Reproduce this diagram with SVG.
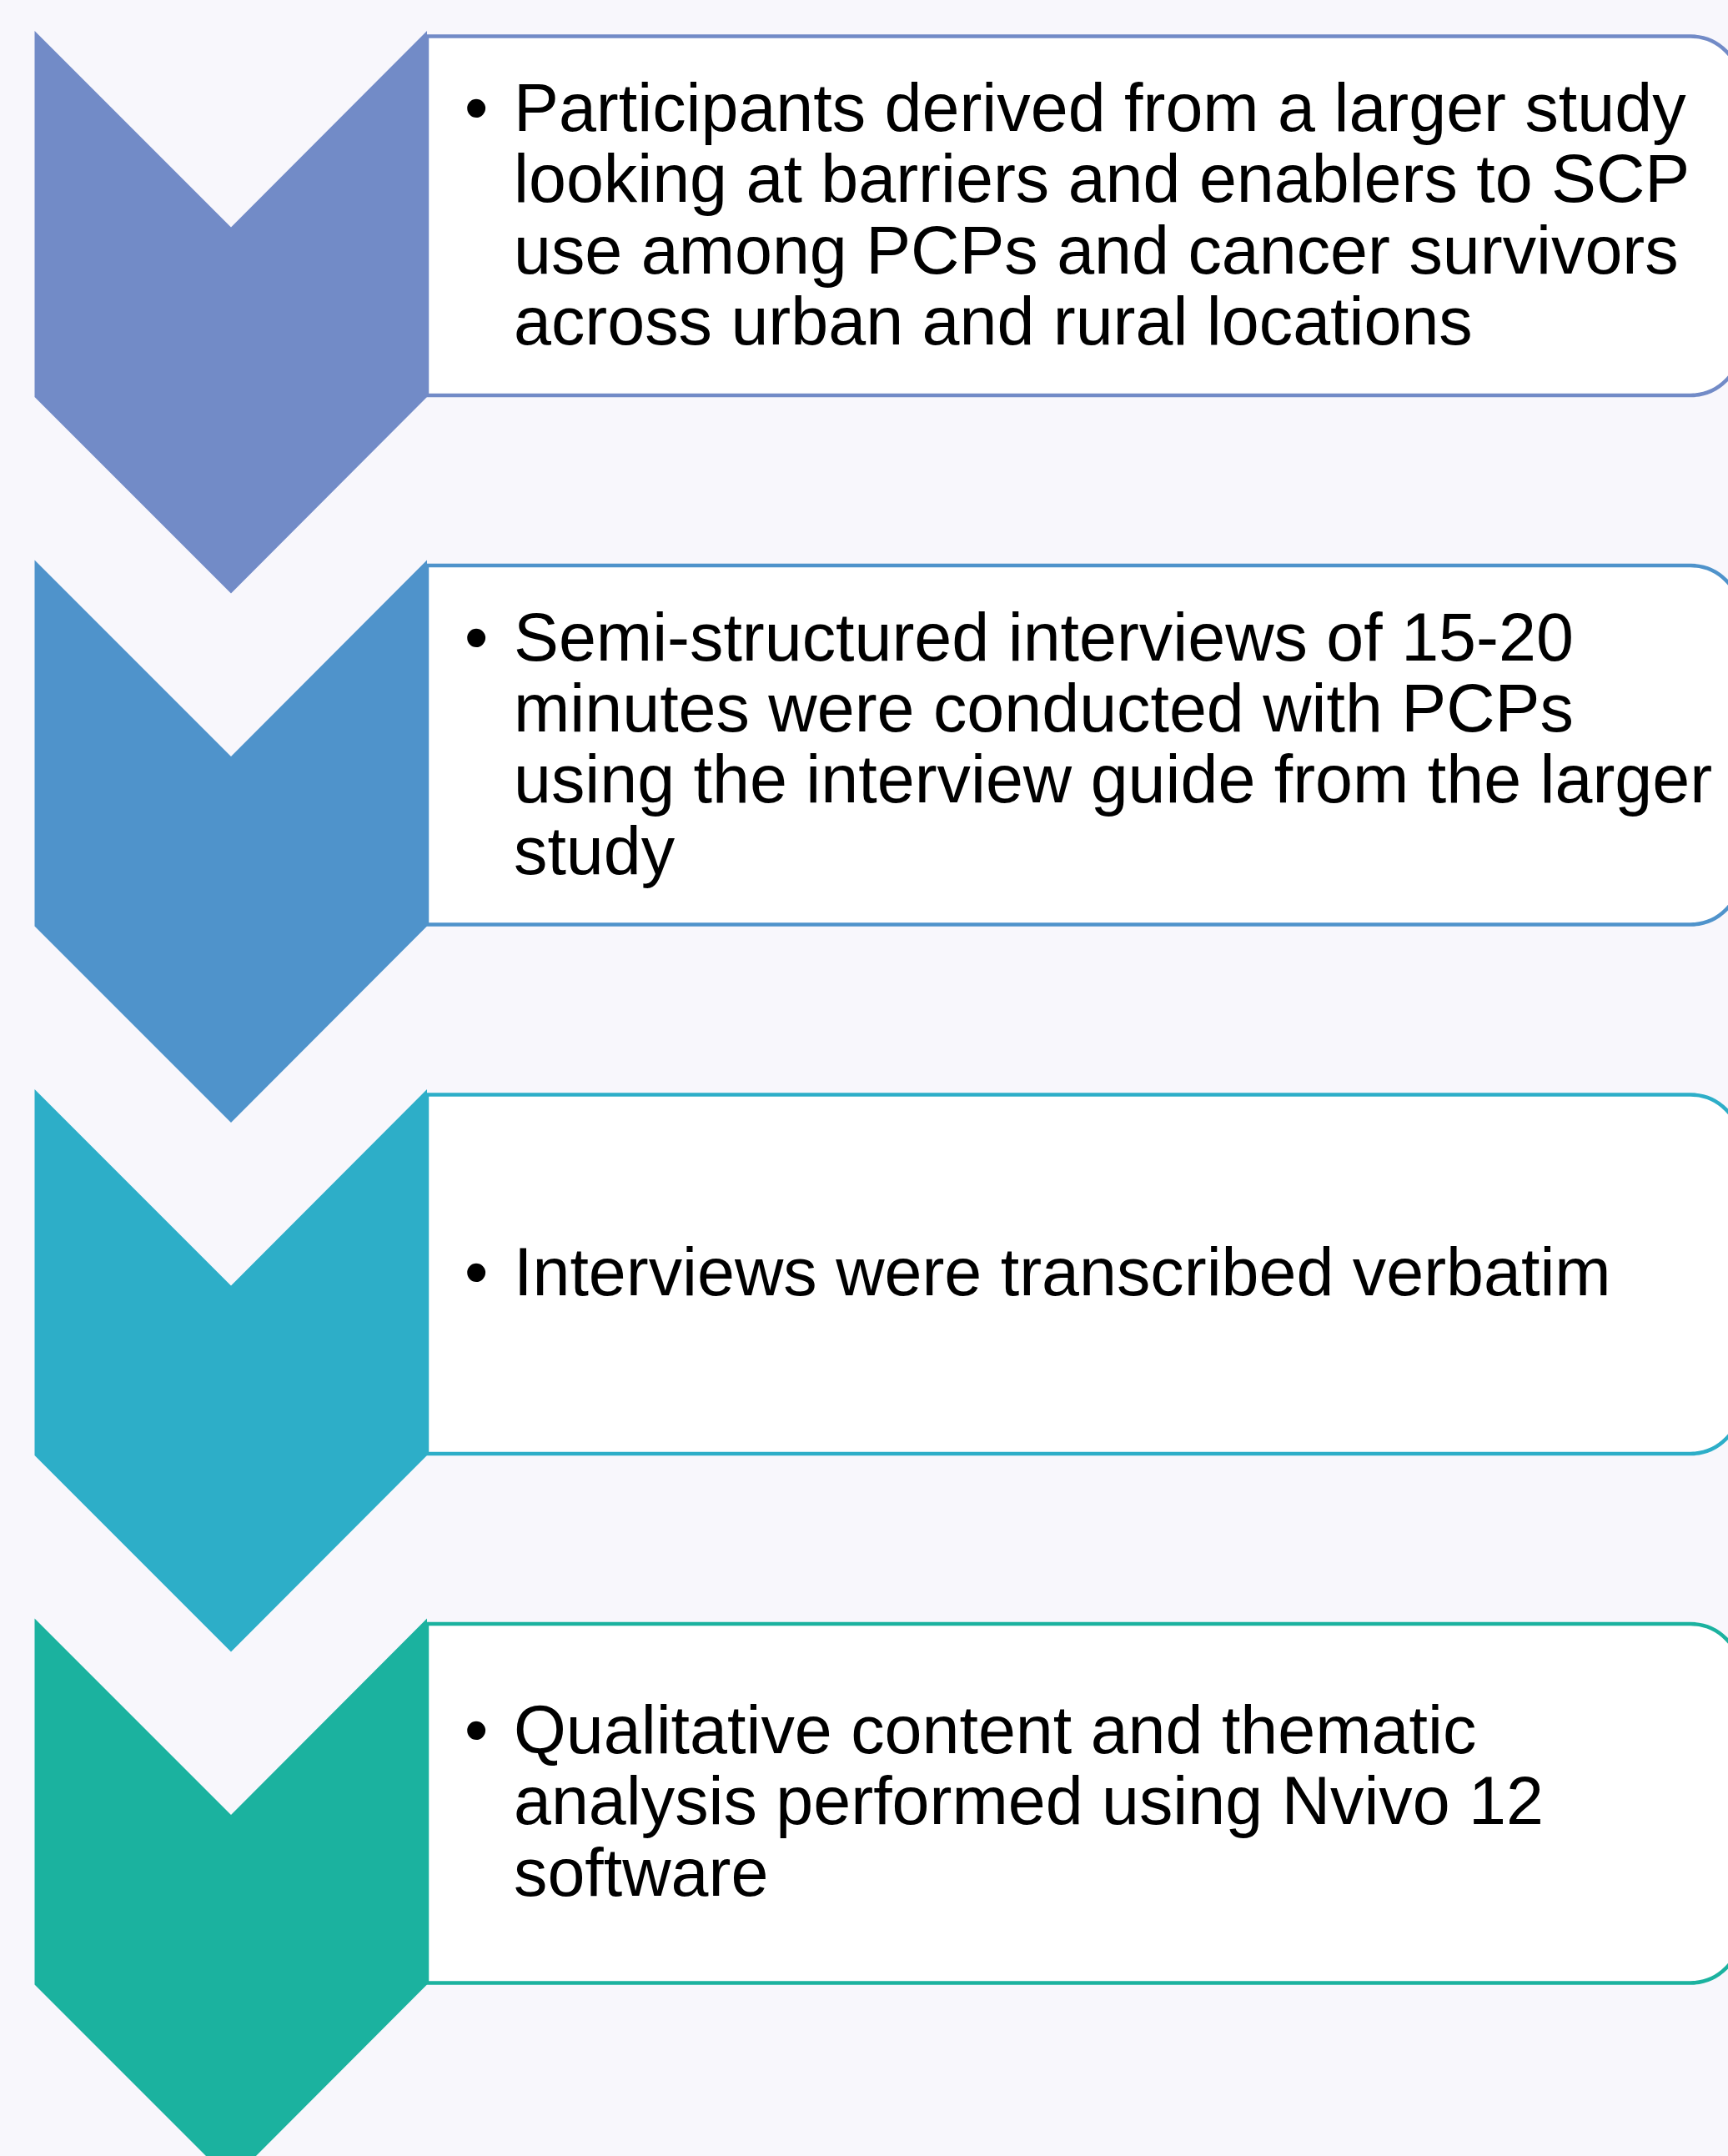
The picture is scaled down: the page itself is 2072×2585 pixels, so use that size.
<svg xmlns="http://www.w3.org/2000/svg" width="2072" height="2585" viewBox="0 0 2072 2585">
<style>
.bg{fill:#F8F7FC}
.box{fill:#FFFFFF;stroke-width:4.5}
.t{font-family:"Liberation Sans",Arial,sans-serif;font-size:80.8px;fill:#000000}
</style>
<defs>
<path id="boxshape" d="M512,0 H2027 A60,60 0 0 1 2087,60 V370.5 A60,60 0 0 1 2027,430.5 H512 Z"/>
<polygon id="chev" points="41.5,0 277,235.5 512,0 512,439 277,674.5 41.5,439"/>
</defs>
<rect class="bg" x="0" y="0" width="2072" height="2585"/>
<g id="connectors"></g>

<g id="step1">
<use href="#boxshape" class="box" stroke="#728BC7" transform="translate(0,43.5)"/>
<use href="#chev" fill="#728BC7" transform="translate(0,37)"/>
<text class="t" x="557" y="157">•</text>
<text class="t" x="616" y="157">Participants derived from a larger study</text>
<text class="t" x="616" y="242.3">looking at barriers and enablers to SCP</text>
<text class="t" x="616" y="327.6">use among PCPs and cancer survivors</text>
<text class="t" x="616" y="413">across urban and rural locations</text>
</g>

<g id="step2">
<use href="#boxshape" class="box" stroke="#4F93CB" transform="translate(0,678)"/>
<use href="#chev" fill="#4F93CB" transform="translate(0,671.5)"/>
<text class="t" x="557" y="791.5">•</text>
<text class="t" x="616" y="791.5">Semi-structured interviews of 15-20</text>
<text class="t" x="616" y="876.8">minutes were conducted with PCPs</text>
<text class="t" x="616" y="962.1">using the interview guide from the larger</text>
<text class="t" x="616" y="1047.5">study</text>
</g>

<g id="step3">
<use href="#boxshape" class="box" stroke="#2DAEC8" transform="translate(0,1312.5)"/>
<use href="#chev" fill="#2DAEC8" transform="translate(0,1306)"/>
<text class="t" x="557" y="1553">•</text>
<text class="t" x="616" y="1553">Interviews were transcribed verbatim</text>
</g>

<g id="step4">
<use href="#boxshape" class="box" stroke="#1BB29F" transform="translate(0,1947)"/>
<use href="#chev" fill="#1BB29F" transform="translate(0,1940.5)"/>
<text class="t" x="557" y="2102">•</text>
<text class="t" x="616" y="2102">Qualitative content and thematic</text>
<text class="t" x="616" y="2187.3">analysis performed using Nvivo 12</text>
<text class="t" x="616" y="2272.6">software</text>
</g>
</svg>
